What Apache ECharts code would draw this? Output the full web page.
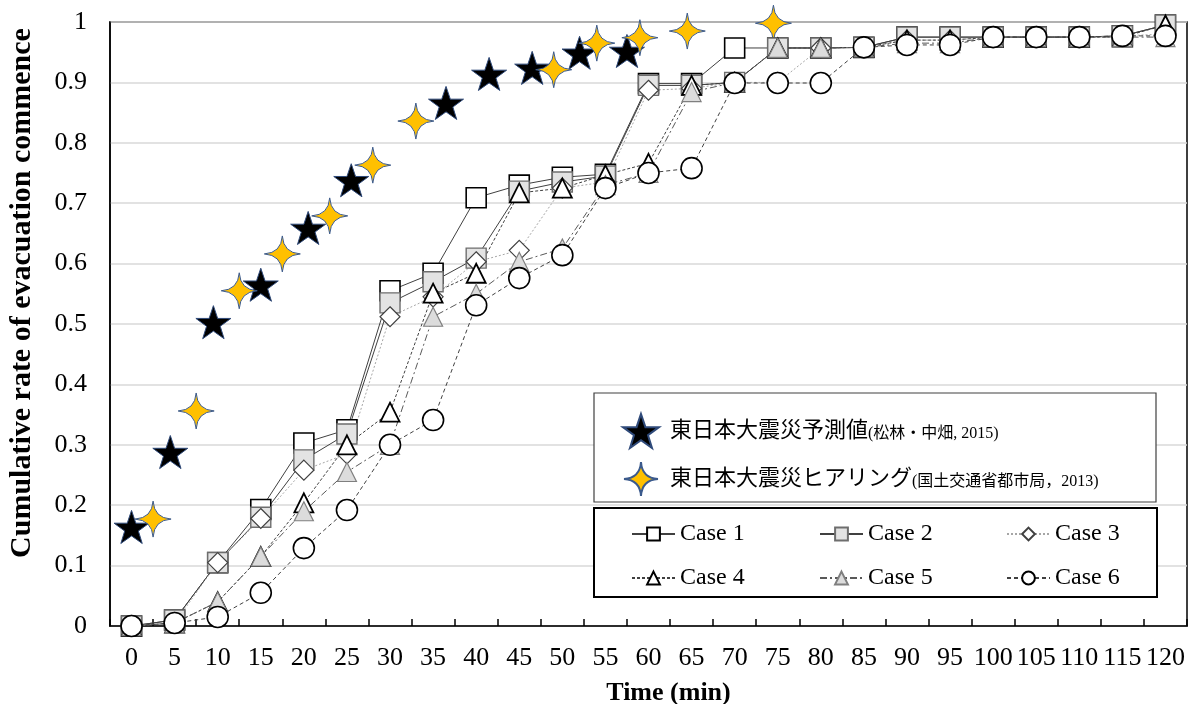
<!DOCTYPE html>
<html>
<head>
<meta charset="utf-8">
<script src="https://cdn.jsdelivr.net/npm/echarts@6/dist/echarts.min.js"></script>
<style>
  html, body { margin: 0; padding: 0; background: #fff; }
  #chart { width: 1195px; height: 704px; }
</style>
</head>
<body>
<div id="chart"></div>
<script>
// Time axis categories (minutes)
const timeLabels = ['0','5','10','15','20','25','30','35','40','45','50','55','60','65','70','75','80','85','90','95','100','105','110','115','120'];

// Simulated cumulative rate of evacuation commencement, one value per time step
const case1 = [0, 0.01, 0.105, 0.193, 0.303, 0.325, 0.555, 0.584, 0.709, 0.73, 0.743, 0.748, 0.898, 0.898, 0.957, 0.957, 0.957, 0.958, 0.975, 0.975, 0.975, 0.975, 0.975, 0.977, 0.995];
const case2 = [0, 0.01, 0.105, 0.18, 0.275, 0.318, 0.535, 0.57, 0.609, 0.72, 0.735, 0.745, 0.895, 0.895, 0.9, 0.957, 0.957, 0.958, 0.975, 0.975, 0.975, 0.975, 0.975, 0.977, 0.995];
const case3 = [0, 0.005, 0.105, 0.178, 0.258, 0.285, 0.512, 0.545, 0.603, 0.622, 0.725, 0.735, 0.887, 0.89, 0.9, 0.9, 0.957, 0.958, 0.97, 0.97, 0.975, 0.975, 0.975, 0.977, 0.98];
const case4 = [0, 0.005, 0.04, 0.115, 0.204, 0.3, 0.354, 0.551, 0.584, 0.717, 0.725, 0.747, 0.766, 0.895, 0.9, 0.957, 0.957, 0.958, 0.97, 0.97, 0.975, 0.975, 0.975, 0.975, 0.995];
const case5 = [0, 0.005, 0.04, 0.115, 0.19, 0.255, 0.3, 0.512, 0.55, 0.603, 0.625, 0.73, 0.75, 0.884, 0.9, 0.957, 0.957, 0.958, 0.965, 0.965, 0.975, 0.975, 0.975, 0.975, 0.975];
const case6 = [0, 0.005, 0.015, 0.055, 0.129, 0.192, 0.3, 0.341, 0.531, 0.576, 0.614, 0.725, 0.75, 0.758, 0.899, 0.899, 0.899, 0.958, 0.962, 0.962, 0.975, 0.975, 0.975, 0.977, 0.977];

// Observed / predicted reference points (minutes, rate)
const predictedX = [0, 4.5, 9.5, 15, 20.5, 25.5, 36.5, 41.5, 46.5, 52, 57.5];
const predictedY = [0.164, 0.288, 0.503, 0.565, 0.659, 0.738, 0.866, 0.914, 0.924, 0.949, 0.952];
const hearingX = [2.5, 7.5, 12.5, 17.5, 23, 28, 33, 49, 54, 59, 64.5, 74.5];
const hearingY = [0.177, 0.356, 0.555, 0.616, 0.679, 0.763, 0.836, 0.921, 0.965, 0.974, 0.985, 0.998];

const predictedName = '東日本大震災予測値(松林・中畑, 2015)';
const hearingName = '東日本大震災ヒアリング(国土交通省都市局，2013)';

const FONT = "'Liberation Serif', 'Times New Roman', 'Noto Sans CJK JP', serif";
const STAR5 = 'path://M50,0 L61.8,35.1 L98.1,35.1 L68.8,56.7 L79.4,90.9 L50,70 L20.6,90.9 L31.2,56.7 L1.9,35.1 L38.2,35.1 Z';
const STAR4 = 'path://M50,0 Q53,47 100,50 Q53,53 50,100 Q47,53 0,50 Q47,47 50,0 Z';

const pairs = (xs, ys) => xs.map((x, i) => [x, ys[i]]);

function caseSeries(name, data, symbol, size, item, line) {
  return {
    name, type: 'line', data, symbol, symbolSize: size,
    xAxisIndex: 0, yAxisIndex: 0,
    itemStyle: item, lineStyle: line,
    emphasis: { disabled: true }, animation: false
  };
}

function caseLegend(names, left) {
  return {
    data: names, orient: 'vertical', left, top: 522, padding: 0,
    itemWidth: 43, itemHeight: 16, itemGap: 20, selectedMode: false, z: 5,
    textStyle: { fontSize: 24, fontFamily: FONT, color: '#000' }
  };
}

const chart = echarts.init(document.getElementById('chart'), null, { renderer: 'canvas' });

chart.setOption({
  backgroundColor: '#fff',
  animation: false,
  textStyle: { fontFamily: FONT, color: '#000' },
  grid: {
    left: 110, top: 22, width: 1077, height: 604,
    outerBoundsMode: 'none', containLabel: false,
    show: true, borderColor: '#000', borderWidth: 1.5
  },
  xAxis: [
    {
      type: 'category', data: timeLabels, boundaryGap: true,
      axisLine: { onZero: false, lineStyle: { color: '#000', width: 1.5 } },
      axisTick: { show: true, inside: true, length: 7, lineStyle: { color: '#000', width: 1.5 } },
      axisLabel: { interval: 0, fontSize: 26, color: '#000', margin: 19, fontFamily: FONT },
      splitLine: { show: false },
      name: 'Time (min)', nameLocation: 'middle', nameGap: 54,
      nameTextStyle: { fontSize: 26, fontWeight: 'bold', color: '#000', fontFamily: FONT, padding: [0, 0, 0, 40] }
    },
    { type: 'value', min: -2.5, max: 122.5, show: false }
  ],
  yAxis: {
    type: 'value', min: 0, max: 1, interval: 0.1,
    axisLine: { show: true, onZero: false, lineStyle: { color: '#000', width: 1.5 } },
    axisTick: { show: false },
    axisLabel: { fontSize: 26, color: '#000', margin: 23, fontFamily: FONT },
    splitLine: { lineStyle: { color: '#d9d9d9', width: 1.5 } },
    name: 'Cumulative rate of evacuation commence', nameLocation: 'middle', nameGap: 73,
    nameTextStyle: { fontSize: 30, fontWeight: 'bold', color: '#000', fontFamily: FONT, padding: [0, 0, 0, 62] }
  },
  graphic: [
    { type: 'rect', z: 3, shape: { x: 594, y: 393, width: 562, height: 109 },
      style: { fill: '#fff', stroke: '#404040', lineWidth: 1.2 } },
    { type: 'rect', z: 3, shape: { x: 594, y: 508, width: 563, height: 89 },
      style: { fill: '#fff', stroke: '#000', lineWidth: 2 } }
  ],
  legend: [
    {
      data: [predictedName, hearingName], orient: 'vertical', left: 622, top: 413, padding: 0,
      itemWidth: 48, itemHeight: 34, itemGap: 12, selectedMode: false, z: 5,
      formatter: (n) => { const i = n.indexOf('('); return '{a|' + n.slice(0, i) + '}{b|' + n.slice(i) + '}'; },
      textStyle: { fontFamily: FONT, color: '#000',
        rich: { a: { fontSize: 22, fontFamily: FONT, color: '#000' },
                b: { fontSize: 16, fontFamily: FONT, color: '#000', verticalAlign: 'bottom', padding: [6, 0, 0, 0] } } }
    },
    caseLegend(['Case 1', 'Case 4'], 631),
    caseLegend(['Case 2', 'Case 5'], 819),
    caseLegend(['Case 3', 'Case 6'], 1006)
  ],
  series: [
    {
      name: predictedName, type: 'scatter', xAxisIndex: 1, yAxisIndex: 0,
      data: pairs(predictedX, predictedY), symbol: STAR5, symbolSize: 35, symbolKeepAspect: true,
      itemStyle: { color: '#000', borderColor: '#2f4a7a', borderWidth: 1, opacity: 1 }, emphasis: { disabled: true }
    },
    {
      name: hearingName, type: 'scatter', xAxisIndex: 1, yAxisIndex: 0,
      data: pairs(hearingX, hearingY), symbol: STAR4, symbolSize: 36, symbolKeepAspect: true,
      itemStyle: { color: '#ffc000', borderColor: '#3b5a8c', borderWidth: 1, opacity: 1 }, emphasis: { disabled: true }
    },
    caseSeries('Case 1', case1, 'rect', 20,
      { color: '#fff', borderColor: '#000', borderWidth: 1.6 },
      { color: '#404040', width: 1, type: 'solid' }),
    caseSeries('Case 2', case2, 'rect', 20,
      { color: '#e3e3e3', borderColor: '#6e6e6e', borderWidth: 1.4 },
      { color: '#404040', width: 1, type: 'solid' }),
    caseSeries('Case 3', case3, 'diamond', 20,
      { color: '#fff', borderColor: '#404040', borderWidth: 1.2 },
      { color: '#a6a6a6', width: 1, type: [2, 2] }),
    caseSeries('Case 4', case4, 'triangle', 19,
      { color: '#fff', borderColor: '#000', borderWidth: 1.8 },
      { color: '#404040', width: 1, type: [3, 2] }),
    caseSeries('Case 5', case5, 'triangle', 19,
      { color: '#dcdcdc', borderColor: '#7f7f7f', borderWidth: 1.2 },
      { color: '#595959', width: 1, type: [7, 3, 2, 3] }),
    caseSeries('Case 6', case6, 'circle', 21,
      { color: '#fff', borderColor: '#000', borderWidth: 1.6 },
      { color: '#404040', width: 1, type: [4, 3] })
  ]
});
</script>
</body>
</html>
